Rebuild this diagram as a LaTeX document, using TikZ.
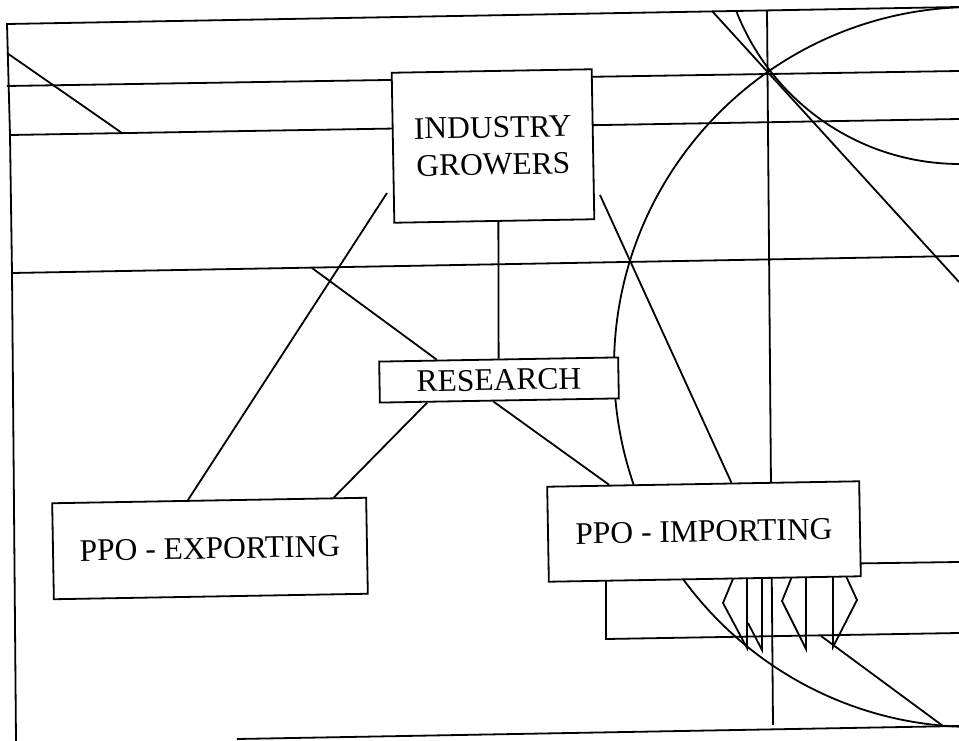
\documentclass[tikz,border=0pt]{standalone}
\usepackage{fontspec}
\setmainfont{Liberation Serif}
\usetikzlibrary{calc}
\begin{document}
\begin{tikzpicture}[x=1pt,y=-1pt, line width=1.8pt,
  box/.style={draw, fill=white, rectangle, inner sep=0pt, rotate=1,
    font=\fontsize{31.5}{37}\selectfont, align=center}]
\useasboundingbox (0,0) rectangle (959,741);
\fill[white] (0,0) rectangle (959,741);
% frame and guide lines
\draw (16,741)--(12,273)--(10,135)--(7,24)--(959,7);
\draw (237,739)--(959,726);
\draw (7,86)--(959,71);
\draw (10,135)--(959,119);
\draw (12,273)--(959,256);
\draw (7,53)--(122,133);
\draw (767,10)--(773,725);
\draw (712,11)--(959,282);
\begin{scope}
  \clip (7,24)--(959,7)--(959,741)--(7,741)--cycle;
  \draw (974,367) circle [radius=360];
  \draw (960,-76) circle [radius=240];
\end{scope}
% rectangle behind PPO - IMPORTING
\draw (959,562)--(606,567)--(606,639)--(959,633);
% flags below PPO - IMPORTING
\draw (735,574)--(723,603)--(747,648)--(747,574);
\draw (748,623)--(762,650)--(762,574);
\draw (793,574)--(782,601)--(806,649)--(806,574);
\draw (833,574)--(833,647)--(857,600)--(845,574);
\draw (821,636)--(943,726);
% boxes
\node[box, minimum width=200pt, minimum height=150pt] (ind) at (493,146) {INDUSTRY\\GROWERS};
\node[box, minimum width=239pt, minimum height=41pt] (res) at (499,380) {RESEARCH};
\node[box, minimum width=314pt, minimum height=96pt] (exp) at (210,548.5) {PPO - EXPORTING};
\node[box, minimum width=312pt, minimum height=95pt] (imp) at (704,531.5) {PPO - IMPORTING};
% free ends
\coordinate (indL) at (387,193);
\coordinate (indR) at (600,195);
\coordinate (lfour) at (312,268);
% connectors
\draw (indL) -- ($(exp.north west)!0.433!(exp.north east)$);
\draw (indR) -- ($(imp.north west)!0.59!(imp.north east)$);
\draw ($(ind.south west)!0.52!(ind.south east)$) -- ($(res.north west)!0.5!(res.north east)$);
\draw (lfour) -- ($(res.north west)!0.243!(res.north east)$);
\draw ($(res.south west)!0.2!(res.south east)$) -- ($(exp.north west)!0.895!(exp.north east)$);
\draw ($(res.south west)!0.475!(res.south east)$) -- ($(imp.north west)!0.2!(imp.north east)$);
\end{tikzpicture}
\end{document}
